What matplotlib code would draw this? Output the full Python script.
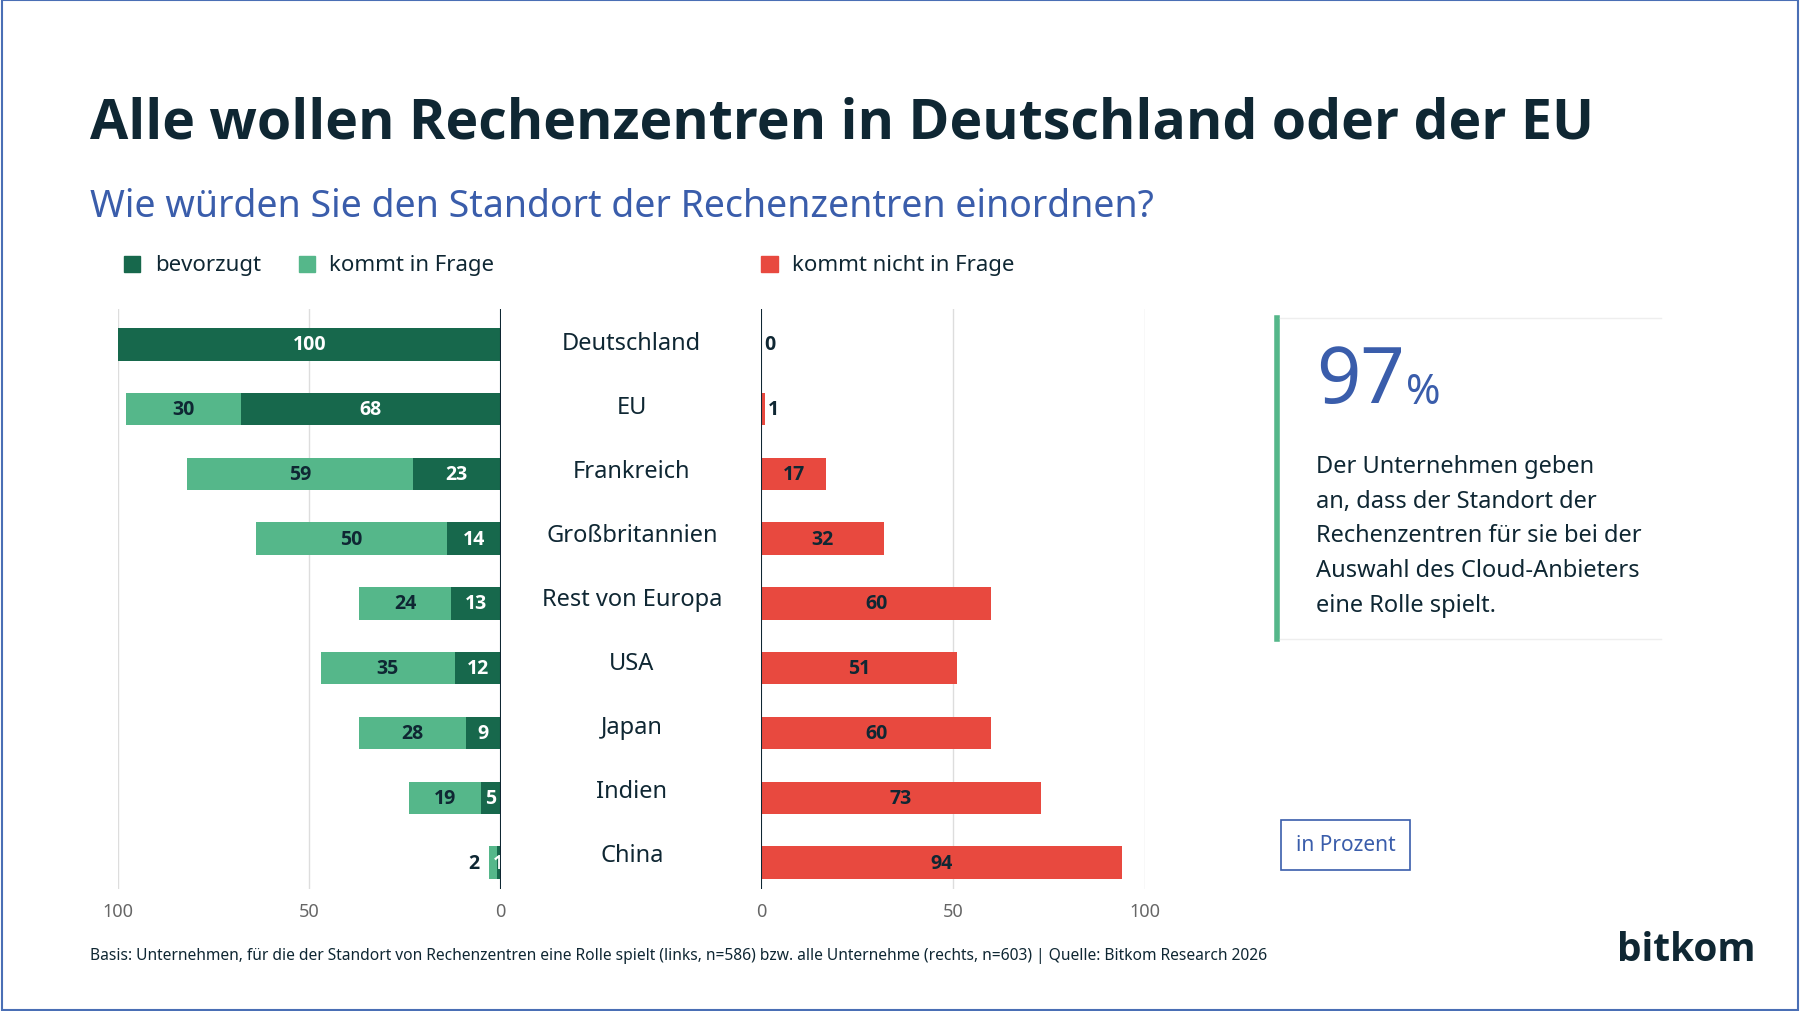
import matplotlib.pyplot as plt
from matplotlib.patches import Rectangle
from matplotlib.lines import Line2D

plt.rcParams['font.family'] = ['Noto Sans', 'DejaVu Sans']
BOLD = ['Open Sans', 'DejaVu Sans']

countries = ['Deutschland', 'EU', 'Frankreich', 'Großbritannien', 'Rest von Europa',
             'USA', 'Japan', 'Indien', 'China']
bevorzugt = [100, 68, 23, 14, 13, 12, 9, 5, 1]
in_frage = [0, 30, 59, 50, 24, 35, 28, 19, 2]
nicht = [0, 1, 17, 32, 60, 51, 60, 73, 94]

dark = '#17684c'
light = '#55b78a'
red = '#e8493f'
navy = '#0f2733'
blue = '#3a5dab'
grid = '#dddddd'

fig = plt.figure(figsize=(18, 10.12), dpi=100)
fig.patches.append(Rectangle((0.001, 0.001), 0.998, 0.998, transform=fig.transFigure,
                             fill=False, edgecolor='#4a6fb5', linewidth=1.5))

fig.text(0.05, 0.877, 'Alle wollen Rechenzentren in Deutschland oder der EU',
         fontsize=40, fontweight='bold', family=BOLD, color=navy, va='center')
fig.text(0.05, 0.795, 'Wie würden Sie den Standort der Rechenzentren einordnen?',
         fontsize=27, color=blue, va='center')

# legend
ly = 0.738
for x, c, t in [(0.069, dark, 'bevorzugt'), (0.166, light, 'kommt in Frage'),
                (0.423, red, 'kommt nicht in Frage')]:
    fig.patches.append(Rectangle((x, ly - 0.008), 0.009, 0.016, transform=fig.transFigure,
                                 color=c))
    fig.text(x + 0.017, ly, t, fontsize=16, color=navy, va='center')

y = list(range(len(countries)))
h = 0.5
lab = dict(ha='center', va='center', fontsize=14, fontweight='bold', family=BOLD)

axl = fig.add_axes([0.0657, 0.121, 0.2124, 0.573])
axl.barh(y, bevorzugt, height=h, color=dark)
axl.barh(y, in_frage, left=bevorzugt, height=h, color=light)
axl.set_xlim(100, 0)
for i in y:
    b, f = bevorzugt[i], in_frage[i]
    axl.text(b / 2, i, str(b), color='white', **lab)
    if f >= 5:
        axl.text(b + f / 2, i, str(f), color=navy, **lab)
    elif f > 0:
        axl.text(b + f + 4, i, str(f), color=navy, **lab)

axr = fig.add_axes([0.4228, 0.121, 0.2131, 0.573])
axr.barh(y, nicht, height=h, color=red)
axr.set_xlim(0, 100)
for i in y:
    v = nicht[i]
    if v >= 5:
        axr.text(v / 2, i, str(v), color=navy, **lab)
    else:
        axr.text(v + 2.2, i, str(v), color=navy, **lab)

for ax in (axl, axr):
    ax.set_ylim(len(countries) - 0.6, -0.55)
    ax.set_yticks([])
    ax.set_xticks([0, 50, 100])
    ax.tick_params(axis='x', length=0, labelsize=13, labelcolor='#666666', pad=10)
    for s in ax.spines.values():
        s.set_visible(False)
    for gx in (50, 100):
        ax.axvline(gx, color=grid, linewidth=1, zorder=0)
    ax.axvline(0, color=navy, linewidth=1.5, zorder=3)

for i, c in enumerate(countries):
    yy = 1 - (300 + i * 55.8) / 882
    fig.text(0.351, yy, c, fontsize=17, color=navy, ha='center', va='center')

# side panel
fig.add_artist(Line2D([0.7095, 0.7095], [1 - 278 / 882, 1 - 558 / 882],
                      transform=fig.transFigure, color=light, linewidth=4))
for yy in (278, 558):
    fig.add_artist(Line2D([0.711, 0.923], [1 - yy / 882] * 2, transform=fig.transFigure,
                          color='#eeeeee', linewidth=1))
fig.text(0.731, 0.622, '97', fontsize=56, color=blue, va='center')
fig.text(0.781, 0.612, '%', fontsize=30, color=blue, va='center')
fig.text(0.731, 0.47, 'Der Unternehmen geben\nan, dass der Standort der\n'
         'Rechenzentren für sie bei der\nAuswahl des Cloud-Anbieters\neine Rolle spielt.',
         fontsize=17, color=navy, va='center', linespacing=1.6)
fig.text(0.7475, 1 - 737 / 882, 'in Prozent', fontsize=15, color=blue, ha='center',
         va='center', bbox=dict(boxstyle='square,pad=0.7', facecolor='white',
                                edgecolor=blue, linewidth=1.2))

fig.text(0.05, 1 - 833 / 882, 'Basis: Unternehmen, für die der Standort von Rechenzentren '
         'eine Rolle spielt (links, n=586) bzw. alle Unternehme (rechts, n=603) | '
         'Quelle: Bitkom Research 2026', fontsize=11.2, color=navy, va='center')
fig.text(0.975, 1 - 828 / 882, 'bitkom', fontsize=28, color=navy, ha='right',
         va='center', fontweight='bold', family=BOLD)

fig.savefig('out.png', dpi=100, facecolor='white')
